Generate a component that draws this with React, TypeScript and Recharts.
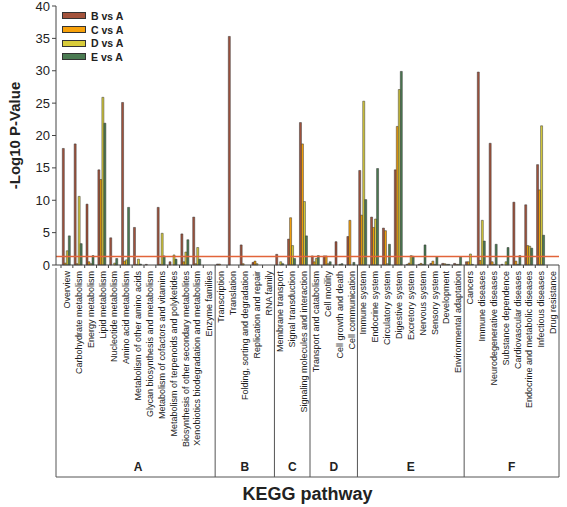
import React from 'react'
import { BarChart, Bar, XAxis, YAxis, ReferenceLine, Legend } from 'recharts'

const categories = [
  'Overview',
  'Carbohydrate metabolism',
  'Energy metabolism',
  'Lipid metabolism',
  'Nucleotide metabolism',
  'Amino acid metabolism',
  'Metabolism of other amino acids',
  'Glycan biosynthesis and metabolism',
  'Metabolism of cofactors and vitamins',
  'Metabolism of terpenoids and polyketides',
  'Biosynthesis of other secondary metabolites',
  'Xenobiotics biodegradation and metabolism',
  'Enzyme families',
  'Transcription',
  'Translation',
  'Folding, sorting and degradation',
  'Replication and repair',
  'RNA family',
  'Membrane transport',
  'Signal transduction',
  'Signaling molecules and interaction',
  'Transport and catabolism',
  'Cell motility',
  'Cell growth and death',
  'Cell communication',
  'Immune system',
  'Endocrine system',
  'Circulatory system',
  'Digestive system',
  'Excretory system',
  'Nervous system',
  'Sensory system',
  'Development',
  'Environmental adaptation',
  'Cancers',
  'Immune diseases',
  'Neurodegenerative diseases',
  'Substance dependence',
  'Cardiovascular diseases',
  'Endocrine and metabolic diseases',
  'Infectious diseases',
  'Drug resistance',
]

const groupLabels = ['A', 'B', 'C', 'D', 'E', 'F']
const groupSizes = [13, 5, 3, 4, 9, 8]

const bVsA = [18.0, 18.7, 9.4, 14.7, 4.2, 25.1, 5.8, 0.1, 8.9, 0.5, 4.8, 7.4, 0, 0.15, 35.3, 3.1, 0.4, 0, 1.65, 4.0, 22.0, 1.4, 1.4, 3.6, 4.4, 14.6, 7.4, 5.7, 14.7, 0.1, 0.1, 0.25, 0.25, 0.25, 0.5, 29.8, 18.8, 0.1, 9.7, 9.3, 15.5, 0]
const cVsA = [0.3, 0.2, 0.5, 13.2, 0, 0.6, 0.1, 0, 0.1, 0, 0.5, 0.2, 0, 0.15, 0, 0.2, 0.6, 0, 0, 7.3, 18.7, 0.5, 1.4, 0, 6.9, 7.7, 5.8, 5.3, 21.4, 0.3, 0.25, 0.6, 0.2, 0.1, 0.5, 0.7, 0.5, 0, 0.6, 3.0, 11.6, 0]
const dVsA = [2.2, 10.6, 0.2, 25.9, 0.3, 0.8, 0.9, 0, 4.9, 1.55, 2.0, 2.7, 0, 0, 0, 0, 0.2, 0, 0.5, 3.0, 9.8, 1.0, 0.2, 0.1, 0, 25.3, 7.1, 0.2, 27.1, 1.45, 0.1, 0.1, 0.1, 0.1, 1.7, 6.9, 0.1, 0.5, 0.1, 2.9, 21.5, 0]
const eVsA = [4.5, 3.3, 1.45, 21.9, 1.0, 8.9, 0.15, 0, 1.4, 0.9, 3.9, 0.9, 0, 0, 0, 0, 0, 0, 0.2, 1.0, 4.5, 1.45, 0.5, 0.2, 0.4, 10.1, 14.9, 3.2, 29.9, 1.35, 3.1, 1.3, 0.1, 1.3, 0.1, 3.7, 3.2, 2.7, 1.45, 2.6, 4.6, 0]

const yTicks = [0, 5, 10, 15, 20, 25, 30, 35, 40]
const cutoff = 1.3 // -log10(0.05)

const data = categories.map((name, i) => ({
  name,
  b: bVsA[i],
  c: cVsA[i],
  d: dVsA[i],
  e: eVsA[i],
}))

// group start indices
const groupStarts = groupSizes.map((_, i) => groupSizes.slice(0, i).reduce((s, n) => s + n, 0))

const FONT = 'Arial, "Liberation Sans", sans-serif'
const W = 567
const H = 507
const MARGIN = { top: 6, right: 8, bottom: 0, left: 0 }
const Y_W = 56
const PAD_L = 5
const BAND = (W - MARGIN.left - MARGIN.right - Y_W - PAD_L) / categories.length
const FRAME_BOTTOM = 212

function CategoryTick(props: any) {
  const { x, y, payload } = props
  const i = payload.index ?? props.index
  const left = x - BAND / 2
  const g = groupStarts.indexOf(i)
  const last = i === categories.length - 1
  return (
    <g>
      <line x1={left} x2={left} y1={y} y2={y + 3} stroke="#444" />
      {last && <line x1={left + BAND} x2={left + BAND} y1={y} y2={y + 3} stroke="#444" />}
      <text
        x={x + 3}
        y={y + 6}
        transform={`rotate(-90 ${x + 3} ${y + 6})`}
        textAnchor="end"
        fontSize={9}
        fontFamily={FONT}
        fill="#222"
      >
        {payload.value}
      </text>
      {g >= 0 && (
        <>
          <line
            x1={g === 0 ? left - PAD_L : left}
            x2={g === 0 ? left - PAD_L : left}
            y1={y + 3}
            y2={y + FRAME_BOTTOM}
            stroke="#555"
          />
          <text
            x={left + (groupSizes[g] * BAND) / 2}
            y={y + 206}
            textAnchor="middle"
            fontSize={12}
            fontWeight="bold"
            fontFamily={FONT}
            fill="#222"
          >
            {groupLabels[g]}
          </text>
        </>
      )}
      {g === 0 && (
        <line
          x1={left - PAD_L}
          x2={left + categories.length * BAND}
          y1={y + FRAME_BOTTOM}
          y2={y + FRAME_BOTTOM}
          stroke="#555"
        />
      )}
      {last && (
        <line x1={left + BAND} x2={left + BAND} y1={y + 3} y2={y + FRAME_BOTTOM} stroke="#555" />
      )}
    </g>
  )
}

function LegendBox({ payload }: any) {
  return (
    <div style={{ fontFamily: FONT }}>
      {(payload || []).map((p: any) => (
        <div key={p.value} style={{ display: 'flex', alignItems: 'center', height: 13.7 }}>
          <span
            style={{
              display: 'inline-block',
              width: 22,
              height: 5,
              background: p.color,
              border: '1px solid #333',
              marginRight: 5,
            }}
          />
          <span style={{ fontSize: 10.5, fontWeight: 'bold', color: '#222' }}>{p.value}</span>
        </div>
      ))}
    </div>
  )
}

const barProps = { stroke: '#333', strokeWidth: 0.5, isAnimationActive: false }

export default function App() {
  return (
    <div style={{ position: 'absolute', left: 0, top: 0, background: '#fff' }}>
      <BarChart
        width={W}
        height={H}
        data={data}
        margin={MARGIN}
        barCategoryGap="11%"
        barGap={0}
      >
        <XAxis
          dataKey="name"
          height={H - MARGIN.top - 259}
          interval={0}
          padding={{ left: PAD_L, right: 0 }}
          tickSize={0}
          tickMargin={0}
          tickLine={false}
          axisLine={{ stroke: '#444' }}
          tick={<CategoryTick />}
          label={(p: any) => {
            const vb = p.viewBox
            return (
              <text
                x={vb.x + vb.width / 2}
                y={vb.y + vb.height - 7}
                textAnchor="middle"
                fontSize={18}
                fontWeight="bold"
                fontFamily={FONT}
                fill="#222"
              >
                KEGG pathway
              </text>
            )
          }}
        />
        <YAxis
          width={Y_W}
          domain={[0, 40]}
          ticks={yTicks}
          interval={0}
          tickSize={4}
          tickMargin={2}
          axisLine={{ stroke: '#444' }}
          tickLine={{ stroke: '#444' }}
          tick={{ fontSize: 13, fontFamily: FONT, fill: '#222' }}
          label={(p: any) => {
            const vb = p.viewBox
            const cx = 14
            const cy = vb.y + vb.height / 2
            return (
              <text
                x={cx}
                y={cy}
                transform={`rotate(-90 ${cx} ${cy})`}
                textAnchor="middle"
                dominantBaseline="central"
                fontSize={15}
                fontWeight="bold"
                fontFamily={FONT}
                fill="#222"
              >
                -Log10 P-Value
              </text>
            )
          }}
        />
        <Legend
          layout="vertical"
          align="center"
          verticalAlign="middle"
          wrapperStyle={{ top: 9, left: 62, width: 100 }}
          content={<LegendBox />}
        />
        <Bar dataKey="b" name="B vs A" fill="#a3533c" {...barProps} />
        <Bar dataKey="c" name="C vs A" fill="#f7a10a" {...barProps} />
        <Bar dataKey="d" name="D vs A" fill="#d8cc3a" {...barProps} />
        <Bar dataKey="e" name="E vs A" fill="#4b7b52" {...barProps} />
        <ReferenceLine y={cutoff} stroke="#e2643a" strokeWidth={1.5} ifOverflow="visible" />
      </BarChart>
    </div>
  )
}
